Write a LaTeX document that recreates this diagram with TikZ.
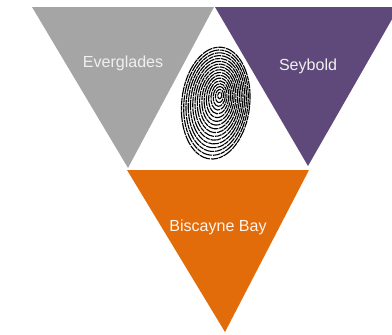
\documentclass[tikz,border=0pt]{standalone}
\usepackage{fontspec}
\setmainfont{Liberation Sans}
\usetikzlibrary{calc}
\definecolor{glades}{HTML}{A5A5A5}
\definecolor{seybold}{HTML}{5F497A}
\definecolor{bay}{HTML}{E36C0A}
\tikzset{
    wedge/.style={draw=none},
    site/.style={font=\fontsize{13.7}{16}\selectfont, inner sep=0pt},
    ridge/.style={draw=black, line width=0.95pt}
}
\begin{document}
\begin{tikzpicture}[x=0.03cm, y=-0.03cm]
    \useasboundingbox (0,0) rectangle (392,334);
    \clip (0,0) rectangle (392,334);
    % the three wedges
    \fill[glades, wedge] (32,7) -- (214,7) -- (128,168) -- cycle;
    \fill[seybold, wedge] (215,7) -- (399,7) -- (308,166) -- cycle;
    \fill[bay, wedge] (127,170) -- (309,170) -- (225,332) -- cycle;
    \node[site, text=white!94!black] (ev) at (123,63) {Everglades};
    \node[site, text=white!94!black] (sey) at (308,66) {Seybold};
    \node[site, text=orange!8!white] (bis) at (218,227) {Biscayne Bay};
    % fingerprint whorl
    \coordinate (core) at (220,95);
    \foreach \r in {1,...,17} {
        \pgfmathsetmacro\ph{mod(\r*53,29)}
        \draw[ridge, rotate around={-6:(core)},
              dash pattern=on 9pt off 0.7pt on 4pt off 0.6pt on 6pt off 0.8pt,
              dash phase=\ph pt]
            ($(core)+(-0.2*\r,0.5*\r)$) ellipse ({2*\r} and {3.3*\r});
    }
\end{tikzpicture}
\end{document}
